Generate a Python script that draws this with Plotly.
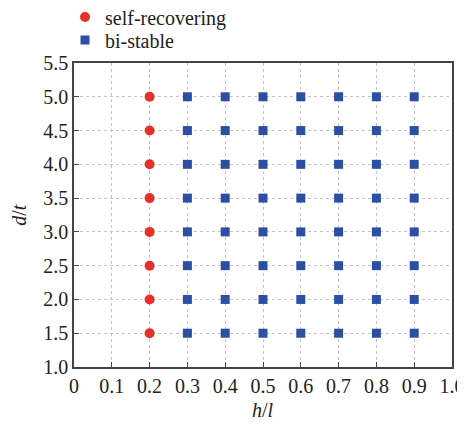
import plotly.graph_objects as go

# Data
dt_levels = [1.5, 2.0, 2.5, 3.0, 3.5, 4.0, 4.5, 5.0]
self_recovering_hl = [0.2]
bistable_hl = [0.3, 0.4, 0.5, 0.6, 0.7, 0.8, 0.9]
x_ticks = [0, 0.1, 0.2, 0.3, 0.4, 0.5, 0.6, 0.7, 0.8, 0.9, 1.0]
x_tick_labels = ["0", "0.1", "0.2", "0.3", "0.4", "0.5", "0.6", "0.7", "0.8", "0.9", "1.0"]
y_ticks = [1.0, 1.5, 2.0, 2.5, 3.0, 3.5, 4.0, 4.5, 5.0, 5.5]
y_tick_labels = ["1.0", "1.5", "2.0", "2.5", "3.0", "3.5", "4.0", "4.5", "5.0", "5.5"]

sr_x = [h for h in self_recovering_hl for d in dt_levels]
sr_y = [d for h in self_recovering_hl for d in dt_levels]
bs_x = [h for h in bistable_hl for d in dt_levels]
bs_y = [d for h in bistable_hl for d in dt_levels]

FONT = "Liberation Serif"
W, H = 465, 428

fig = go.Figure()
fig.add_trace(go.Scatter(x=sr_x, y=sr_y, mode="markers", name="self-recovering",
                         legend="legend",
                         marker=dict(symbol="circle", size=10, color="#e8302a")))
fig.add_trace(go.Scatter(x=bs_x, y=bs_y, mode="markers", name="bi-stable",
                         legend="legend2",
                         marker=dict(symbol="square", size=9, color="#2c4ea3")))

axis_common = dict(
    showline=True, linecolor="#444", linewidth=1.5, mirror=True,
    ticks="inside", ticklen=5, tickcolor="#444", tickwidth=1,
    showgrid=True, gridcolor="#c4c4c4", griddash="dot", gridwidth=1,
    zeroline=False, tickfont=dict(family=FONT, size=20, color="#222"),
)

leg_common = dict(xref="container", yref="container", xanchor="left", yanchor="middle",
                  font=dict(family=FONT, size=20, color="#222"), itemwidth=30,
                  bgcolor="rgba(0,0,0,0)")

fig.update_layout(
    width=W, height=H,
    margin=dict(l=66, r=21, t=55, b=69, autoexpand=False),
    paper_bgcolor="white", plot_bgcolor="white",
    font=dict(family=FONT, size=20, color="#222"),
    showlegend=True,
    legend=dict(x=57 / W, y=1 - 9 / H, **leg_common),
    legend2=dict(x=57 / W, y=1 - 32 / H, **leg_common),
    xaxis=dict(range=[0, 1.0], tickvals=x_ticks, ticktext=x_tick_labels, **axis_common),
    yaxis=dict(range=[1.0, 5.5], tickvals=y_ticks, ticktext=y_tick_labels, **axis_common),
    annotations=[
        dict(text="<i>h</i>/<i>l</i>", xref="paper", yref="paper", x=0.5, y=-0.1414,
             xanchor="center", yanchor="middle", showarrow=False,
             font=dict(family=FONT, size=20, color="#222")),
        dict(text="<i>d</i>/<i>t</i>", xref="paper", yref="paper", x=-0.146, y=0.5,
             xanchor="center", yanchor="middle", showarrow=False, textangle=-90,
             font=dict(family=FONT, size=20, color="#222")),
    ],
)

fig.write_html("out.html")
